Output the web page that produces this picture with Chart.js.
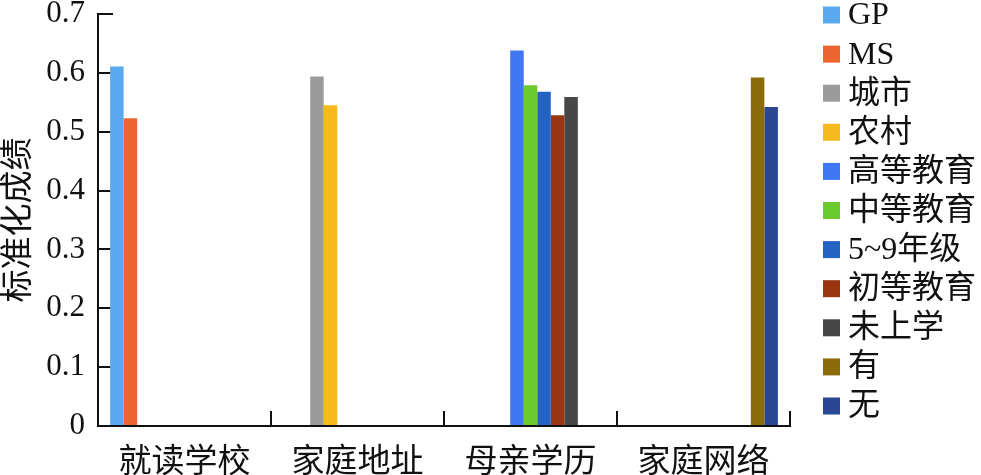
<!DOCTYPE html>
<html>
<head>
<meta charset="utf-8">
<script src="https://cdn.jsdelivr.net/npm/chart.js@4.4.1/dist/chart.umd.min.js"></script>
<style>
html,body{margin:0;padding:0;background:#fff;}
#wrap{width:981px;height:475px;position:relative;}
</style>
</head>
<body>
<div id="wrap"><canvas id="c"></canvas></div>
<script>
const categories = ['就读学校', '家庭地址', '母亲学历', '家庭网络'];
const seriesNames = ['GP', 'MS', '城市', '农村', '高等教育', '中等教育', '5~9年级', '初等教育', '未上学', '有', '无'];
const seriesColors = ['#5AA9EE', '#EC6430', '#9B9B9B', '#F7B91B', '#3F76F3', '#6BCB2E', '#2363C1', '#9A3512', '#474747', '#8C6C0A', '#2A4692'];
// value of each series (each series belongs to one category)
const seriesValues = [0.611, 0.523, 0.594, 0.545, 0.638, 0.579, 0.568, 0.528, 0.559, 0.592, 0.542];
const seriesCategory = [0, 0, 1, 1, 2, 2, 2, 2, 2, 3, 3];
const yTicks = [0, 0.1, 0.2, 0.3, 0.4, 0.5, 0.6, 0.7];

const FONT = "'Liberation Serif', 'Noto Sans CJK SC', serif";

const datasets = seriesNames.map((name, i) => ({
  label: name,
  data: categories.map((c, ci) => ci === seriesCategory[i] ? seriesValues[i] : null),
  backgroundColor: seriesColors[i],
  borderWidth: 0
}));

const legendPlugin = {
  id: 'customLegend',
  afterDraw(chart) {
    const ctx = chart.ctx;
    ctx.save();
    ctx.font = "32px " + FONT;
    ctx.textBaseline = 'middle';
    ctx.textAlign = 'left';
    chart.data.datasets.forEach((ds, i) => {
      const cy = 15 + i * 39.1;
      ctx.fillStyle = ds.backgroundColor;
      ctx.fillRect(823, cy - 8.5, 17, 17);
      ctx.fillStyle = '#111';
      ctx.fillText(ds.label, 848, cy + 1);
    });
    ctx.restore();
  }
};

new Chart(document.getElementById('c'), {
  type: 'bar',
  data: { labels: categories, datasets },
  plugins: [legendPlugin],
  options: {
    responsive: true,
    maintainAspectRatio: false,
    animation: false,
    devicePixelRatio: 1,
    layout: { padding: { top: 14, right: 191, left: 0, bottom: 0 } },
    datasets: { bar: { categoryPercentage: 0.86, barPercentage: 1.0 } },
    plugins: { legend: { display: false }, tooltip: { enabled: false } },
    scales: {
      x: {
        afterFit: s => { s.height = 49; s.paddingLeft = 0; s.paddingRight = 0; s.paddingTop = 0; s.paddingBottom = 0; },
        grid: { display: true, drawOnChartArea: false, drawTicks: true, tickLength: -15, color: '#111', lineWidth: 2, offset: true },
        border: { display: true, color: '#111', width: 2 },
        ticks: { color: '#111', font: { family: FONT, size: 33 }, padding: 33, maxRotation: 0 }
      },
      y: {
        min: 0, max: 0.7,
        afterFit: s => { s.width = 98; s.paddingTop = 0; s.paddingBottom = 0; },
        afterBuildTicks: s => { s.ticks = yTicks.map(v => ({ value: v })); },
        grid: { display: true, drawOnChartArea: false, drawTicks: true, tickLength: -15, color: '#111', lineWidth: 2 },
        border: { display: true, color: '#111', width: 2 },
        ticks: { color: '#111', font: { family: FONT, size: 31 }, padding: 28, callback: v => String(Math.round(v * 10) / 10) },
        title: { display: true, text: '标准化成绩', color: '#111', font: { family: FONT, size: 33 }, padding: 0 }
      }
    }
  }
});
</script>
</body>
</html>
